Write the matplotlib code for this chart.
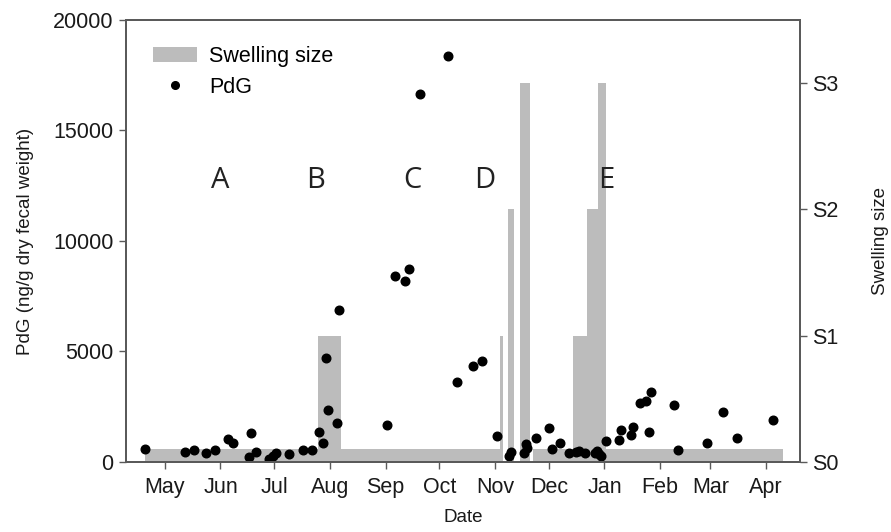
import pandas as pd
import matplotlib
matplotlib.use("Agg")
import matplotlib.pyplot as plt
import matplotlib.dates as mdates
from matplotlib.patches import Patch
from matplotlib.lines import Line2D

plt.rcParams["font.family"] = ["Liberation Sans", "DejaVu Sans"]

# PdG samples (date, ng/g dry fecal weight)
pdg_dates = [
    "2010-04-20", "2010-05-12", "2010-05-17", "2010-05-24", "2010-05-29",
    "2010-06-05", "2010-06-08", "2010-06-17", "2010-06-18", "2010-06-21",
    "2010-06-28", "2010-06-30", "2010-07-02", "2010-07-09", "2010-07-17",
    "2010-07-22", "2010-07-26", "2010-07-28", "2010-07-30", "2010-07-31",
    "2010-08-05", "2010-08-06", "2010-09-02", "2010-09-06", "2010-09-12",
    "2010-09-14", "2010-09-20", "2010-10-06", "2010-10-11", "2010-10-20",
    "2010-10-25", "2010-11-02", "2010-11-09", "2010-11-10", "2010-11-17",
    "2010-11-18", "2010-11-19", "2010-11-24", "2010-12-01", "2010-12-03",
    "2010-12-07", "2010-12-12", "2010-12-16", "2010-12-18", "2010-12-21",
    "2010-12-27", "2010-12-28", "2010-12-29", "2010-12-30", "2011-01-02",
    "2011-01-09", "2011-01-10", "2011-01-16", "2011-01-17", "2011-01-21",
    "2011-01-24", "2011-01-26", "2011-01-27", "2011-02-09", "2011-02-11",
    "2011-02-27", "2011-03-08", "2011-03-16", "2011-04-05",
]
pdg_values = [
    600, 440, 545, 410, 555,
    1040, 850, 210, 1330, 440,
    150, 270, 390, 350, 545,
    555, 1340, 845, 4700, 2350,
    1750, 6870, 1690, 8430, 8190,
    8720, 16650, 18385, 3605, 4360,
    4585, 1180, 270, 450, 420,
    800, 650, 1086, 1540, 575,
    860, 390, 470, 500, 390,
    420, 510, 360, 290, 950,
    995, 1450, 1220, 1600, 2683,
    2760, 1372, 3168, 2580, 528,
    875, 2280, 1071, 1916,
]

# swelling score, constant between consecutive edges (0.1 = S0 baseline)
swell_edges = [
    "2010-04-20 00:00", "2010-07-25 12:00", "2010-08-07 00:00", "2010-11-03 16:00",
    "2010-11-05 10:00", "2010-11-08 05:00", "2010-11-11 12:00",
    "2010-11-14 22:00", "2010-11-20 12:00", "2010-11-22 02:00",
    "2010-12-14 10:00", "2010-12-22 05:00", "2010-12-28 10:00",
    "2011-01-01 19:00", "2011-04-10 12:00",
]
swell_levels = [0.1, 1, 0.1, 1, 0, 2, 0, 3, 0, 0.1, 1, 2, 3, 0.1]
swell_ticks = ["S0", "S1", "S2", "S3"]

phase_labels = ["A", "B", "C", "D", "E"]
phase_dates = ["2010-05-31 17:00", "2010-07-24", "2010-09-16", "2010-10-26", "2011-01-02"]

x_pdg = pd.to_datetime(pdg_dates)
edges = mdates.date2num(pd.to_datetime(swell_edges, format="%Y-%m-%d %H:%M"))
lefts = edges[:-1]
widths = edges[1:] - edges[:-1]

fig = plt.figure(figsize=(8.91, 5.32), dpi=100)
ax = fig.add_axes([0.1414, 0.1316, 0.7565, 0.8308])
ax2 = ax.twinx()
# dots above the bars
ax.set_zorder(ax2.get_zorder() + 1)
ax.patch.set_visible(False)

bar_color = "#bcbcbc"
ax2.bar(lefts, swell_levels, width=widths, align="edge", color=bar_color,
        linewidth=0)
ax.plot(x_pdg, pdg_values, "o", color="black", markersize=6.2, linestyle="none")

for lab, d in zip(phase_labels, phase_dates):
    ax.text(pd.Timestamp(d), 12760, lab, ha="center", va="center",
            fontsize=21, family=["Open Sans", "DejaVu Sans"], color="#222222")

ax.set_xlim(pd.Timestamp("2010-04-09 08:00"), pd.Timestamp("2011-04-20"))
ax.set_ylim(0, 20000)
ax2.set_ylim(0, 3.5)
ax.set_yticks([0, 5000, 10000, 15000, 20000])
ax2.set_yticks([0, 1, 2, 3])
ax2.set_yticklabels(swell_ticks)

ax.xaxis.set_major_locator(mdates.MonthLocator())
ax.xaxis.set_major_formatter(mdates.DateFormatter("%b"))

spine_color = "#5a5a5a"
for a in (ax, ax2):
    for s in a.spines.values():
        s.set_color(spine_color)
        s.set_linewidth(1.4)
    a.tick_params(colors=spine_color, labelcolor="#1a1a1a", labelsize=15.5,
                  length=5, width=1.0, pad=4)
ax.tick_params(axis="x", pad=6)

ax.set_xlabel("Date", fontsize=13.5, color="#1a1a1a", labelpad=8)
ax.set_ylabel("PdG (ng/g dry fecal weight)", fontsize=13.5, color="#1a1a1a",
              labelpad=14)
ax2.set_ylabel("Swelling size", fontsize=13.5, color="#1a1a1a", labelpad=24)

handles = [Patch(facecolor=bar_color, edgecolor="none"),
           Line2D([], [], marker="o", color="black", linestyle="none",
                  markersize=5.5)]
ax.legend(handles, ["Swelling size", "PdG"], loc="upper left",
          bbox_to_anchor=(0.012, 0.985), frameon=False, fontsize=15.5,
          handlelength=2.0, handletextpad=0.6, labelspacing=0.45)

fig.savefig("out.png", dpi=100)
